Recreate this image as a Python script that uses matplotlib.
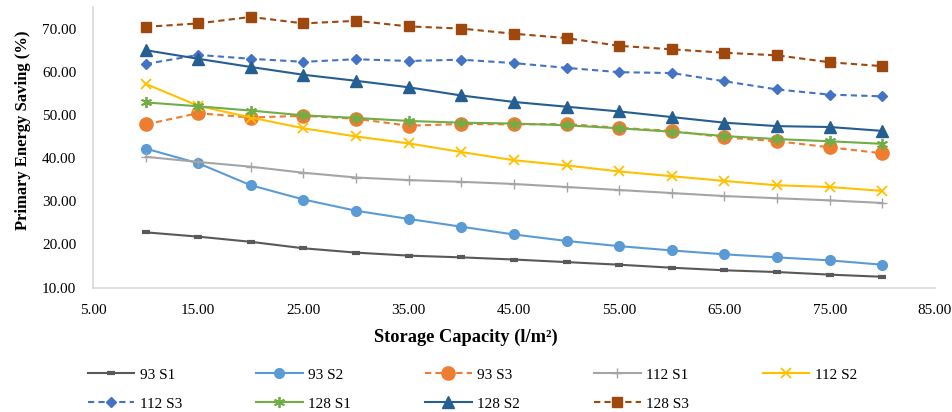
import numpy as np
import matplotlib
matplotlib.use('Agg')
import matplotlib.pyplot as plt

# storage capacity (l/m2)
capacity = [10, 15, 20, 25, 30, 35, 40, 45, 50, 55, 60, 65, 70, 75, 80]

# primary energy saving (%)
pes_93_s1 = [22.8, 21.8, 20.6, 19.1, 18.1, 17.4, 17.0, 16.5, 15.9, 15.3, 14.6, 14.0, 13.6, 13.0, 12.5]
pes_93_s2 = [42.2, 38.8, 33.7, 30.4, 27.8, 25.9, 24.1, 22.3, 20.8, 19.6, 18.6, 17.7, 17.0, 16.3, 15.3]
pes_93_s3 = [47.8, 50.4, 49.4, 49.8, 49.1, 47.5, 47.9, 47.8, 47.9, 47.0, 46.3, 44.8, 43.9, 42.5, 41.1]
pes_112_s1 = [40.3, 39.1, 38.0, 36.6, 35.5, 34.9, 34.5, 34.0, 33.3, 32.6, 31.9, 31.2, 30.7, 30.2, 29.6]
pes_112_s2 = [57.2, 52.1, 49.4, 46.9, 45.0, 43.4, 41.4, 39.5, 38.3, 36.9, 35.8, 34.7, 33.7, 33.3, 32.4]
pes_112_s3 = [61.8, 63.9, 63.0, 62.3, 62.9, 62.5, 62.8, 62.0, 60.9, 59.9, 59.7, 57.8, 55.9, 54.7, 54.3]
pes_128_s1 = [52.9, 52.0, 51.0, 49.9, 49.3, 48.6, 48.2, 48.0, 47.6, 46.9, 46.1, 45.1, 44.4, 43.9, 43.3]
pes_128_s2 = [65.0, 63.0, 61.1, 59.3, 57.9, 56.4, 54.5, 53.0, 51.9, 50.8, 49.5, 48.2, 47.4, 47.2, 46.3]
pes_128_s3 = [70.4, 71.2, 72.7, 71.2, 71.8, 70.5, 70.0, 68.8, 67.8, 66.0, 65.2, 64.4, 63.8, 62.2, 61.3]

series = [
    ("93 S1", pes_93_s1, "#595959", "-", "_", 6, 3.0),
    ("93 S2", pes_93_s2, "#5B9BD5", "-", "o", 7, 1.0),
    ("93 S3", pes_93_s3, "#ED7D31", (0, (3, 2)), "o", 9.5, 1.0),
    ("112 S1", pes_112_s1, "#A5A5A5", "-", "+", 7, 1.0),
    ("112 S2", pes_112_s2, "#FFC000", "-", "x", 7, 1.3),
    ("112 S3", pes_112_s3, "#4472C4", (0, (3, 2)), "D", 5.5, 1.0),
    ("128 S1", pes_128_s1, "#70AD47", "-", (6, 2, 0), 8, 1.3),
    ("128 S2", pes_128_s2, "#255E91", "-", "^", 8, 1.0),
    ("128 S3", pes_128_s3, "#9E480E", (0, (3, 2)), "s", 7.5, 1.0),
]

plt.rcParams['font.family'] = ['Liberation Serif', 'DejaVu Serif']

fig = plt.figure(figsize=(9.53, 4.12), dpi=100)
ax = fig.add_axes([0.0976, 0.302, 0.8834, 0.681])

lines = []
for name, vals, col, ls, mk, ms, mew in series:
    ln, = ax.plot(capacity, vals, color=col, linestyle=ls, linewidth=1.5,
                  marker=mk, markersize=ms, markeredgewidth=mew,
                  markerfacecolor=col, markeredgecolor=col, label=name)
    lines.append(ln)

ax.set_xlim(5, 85)
ax.set_ylim(10, 75)
ax.set_xticks(np.arange(5, 86, 10))
ax.set_yticks(np.arange(10, 71, 10))
ax.xaxis.set_major_formatter(matplotlib.ticker.FormatStrFormatter('%.2f'))
ax.yaxis.set_major_formatter(matplotlib.ticker.FormatStrFormatter('%.2f'))
ax.tick_params(length=0, labelsize=11)
ax.tick_params(axis='y', pad=12)
ax.tick_params(axis='x', pad=12)

for s in ["top", "right"]:
    ax.spines[s].set_visible(False)
for s in ["left", "bottom"]:
    ax.spines[s].set_color("#D9D9D9")
    ax.spines[s].set_linewidth(1.2)

ax.set_xlabel("Storage Capacity (l/m²)", fontsize=13.2, fontweight='bold')
ax.xaxis.set_label_coords(0.443, -0.145)
ax.set_ylabel("Primary Energy Saving (%)", fontsize=12, fontweight='bold', labelpad=8)
ax.yaxis.label.set_y(0.56)

# fill the legend row by row like the original
order = [0, 5, 1, 6, 2, 7, 3, 8, 4]
fig.legend([lines[i] for i in order], [series[i][0] for i in order],
           loc='lower left', bbox_to_anchor=(0.0777, -0.03), ncol=5, frameon=False,
           fontsize=11, handlelength=3.05, handletextpad=0.35, columnspacing=4.85,
           labelspacing=1.0)

plt.savefig("out.png", dpi=100)
